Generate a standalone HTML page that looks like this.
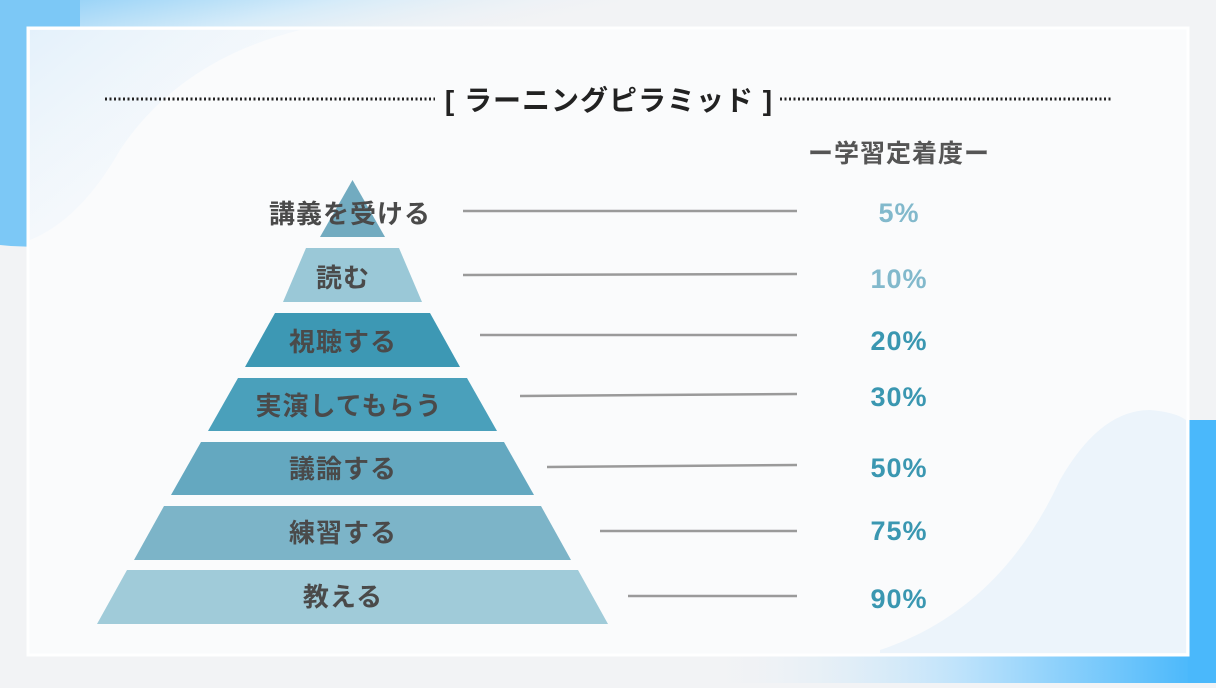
<!DOCTYPE html>
<html><head><meta charset="utf-8"><style>
body{margin:0;width:1216px;height:683px;overflow:hidden;background:#f2f3f5;font-family:"Liberation Sans","Noto Sans CJK JP",sans-serif;}
</style></head><body>
<svg width="1216" height="683" viewBox="0 0 1216 683" xmlns="http://www.w3.org/2000/svg">
<defs>
<linearGradient id="tl" x1="0" y1="0" x2="1" y2="0.3"><stop offset="0" stop-color="#6fc3f7"/><stop offset="0.5" stop-color="#cde9fa"/><stop offset="1" stop-color="#f2f3f5" stop-opacity="0"/></linearGradient>
<linearGradient id="br" x1="0" y1="0" x2="1" y2="0"><stop offset="0" stop-color="#f2f3f5" stop-opacity="0"/><stop offset="0.5" stop-color="#bfe3fb"/><stop offset="1" stop-color="#3fb4fb"/></linearGradient>
<linearGradient id="cardtl" x1="0" y1="0" x2="1" y2="1"><stop offset="0" stop-color="#e4f1fb"/><stop offset="1" stop-color="#f8f9fb" stop-opacity="0"/></linearGradient>
</defs>
<path d="M0 0 H620 V40 H0Z" fill="url(#tl)" opacity="0.8"/>
<path d="M0 0 H80 V240 Q40 250 0 245Z" fill="#7cc8f6"/>
<path d="M700 683 V655 H1190 V420 Q1205 430 1216 445 V683Z" fill="url(#br)"/>
<rect x="1188" y="420" width="28" height="263" fill="#4ab8fb"/>
<rect x="28" y="28" width="1160" height="627" fill="#fafbfc" stroke="#ffffff" stroke-width="3"/>
<path d="M30 30 H300 Q180 60 120 150 Q80 220 30 240Z" fill="url(#cardtl)"/>
<path d="M880 650 Q1000 610 1060 480 Q1100 410 1150 410 Q1175 412 1186 420 V653 H880Z" fill="#e9f3fa" opacity="0.8"/>
<line x1="105" y1="99" x2="435" y2="99" stroke="#222" stroke-width="3" stroke-dasharray="2 2.5"/>
<line x1="780" y1="99" x2="1113" y2="99" stroke="#222" stroke-width="3" stroke-dasharray="2 2.5"/>
<text x="609" y="110" text-anchor="middle" font-size="28" font-weight="bold" fill="#222" letter-spacing="1">[ ラーニングピラミッド ]</text>
<text x="899" y="162" text-anchor="middle" font-size="25" font-weight="bold" fill="#555" letter-spacing="1">ー学習定着度ー</text>
<g>
<polygon points="352.5,180 385,237 320,237" fill="#72abc0"/>
<polygon points="306,248 399,248 422,302 283,302" fill="#9ac8d7"/>
<polygon points="275,313 430,313 460,367 245,367" fill="#3d98b4"/>
<polygon points="238,378 467,378 497,431 208,431" fill="#4aa0bb"/>
<polygon points="201,442 504,442 534,495 171,495" fill="#64a8c0"/>
<polygon points="164,506 541,506 571,560 134,560" fill="#7cb4c8"/>
<polygon points="127,570 578,570 608,624 97,624" fill="#a0cbd9"/>
</g>
<g font-size="26" font-weight="bold" fill="#4a4a4a" text-anchor="middle" letter-spacing="1">
<text x="350" y="223">講義を受ける</text>
<text x="343" y="287">読む</text>
<text x="343" y="351">視聴する</text>
<text x="349" y="415">実演してもらう</text>
<text x="343" y="478">議論する</text>
<text x="343" y="542">練習する</text>
<text x="343" y="606">教える</text>
</g>
<g stroke="#9a9a9a" stroke-width="2.5">
<line x1="463" y1="211" x2="797" y2="211"/>
<line x1="463" y1="275" x2="797" y2="274"/>
<line x1="480" y1="335" x2="797" y2="335"/>
<line x1="520" y1="396" x2="797" y2="394"/>
<line x1="547" y1="467" x2="797" y2="465"/>
<line x1="600" y1="531" x2="797" y2="531"/>
<line x1="628" y1="596" x2="797" y2="596"/>
</g>
<g font-size="27" font-weight="bold" text-anchor="middle" letter-spacing="1">
<text x="899" y="222" fill="#82b9cc">5%</text>
<text x="899" y="288" fill="#82b9cc">10%</text>
<text x="899" y="350" fill="#3a97b1">20%</text>
<text x="899" y="406" fill="#3a97b1">30%</text>
<text x="899" y="477" fill="#3a97b1">50%</text>
<text x="899" y="540" fill="#3a97b1">75%</text>
<text x="899" y="608" fill="#3a97b1">90%</text>
</g>
</svg>
</body></html>
